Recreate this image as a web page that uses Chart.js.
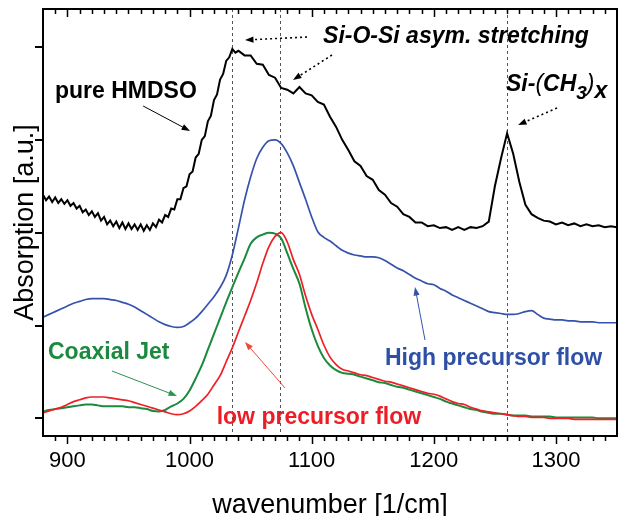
<!DOCTYPE html>
<html>
<head>
<meta charset="utf-8">
<script src="https://cdn.jsdelivr.net/npm/chart.js@4.4.0/dist/chart.umd.min.js"></script>
<style>
body { margin: 0; background: #fff; }
#wrap { width: 620px; height: 516px; }
</style>
</head>
<body>
<div id="wrap"><canvas id="spectra" width="620" height="516"></canvas></div>
<script>
// wavenumber grid shared by the three film spectra
var wavenumbers = [
  880, 885, 890, 895, 900, 905, 910, 915, 920, 925,
  930, 935, 940, 945, 950, 955, 960, 965, 970, 975,
  980, 985, 990, 995, 1000, 1005, 1010, 1015, 1020, 1025,
  1030, 1035, 1040, 1045, 1050, 1055, 1060, 1065, 1070, 1075,
  1080, 1085, 1090, 1095, 1100, 1105, 1110, 1115, 1120, 1125,
  1130, 1135, 1140, 1145, 1150, 1155, 1160, 1165, 1170, 1175,
  1180, 1185, 1190, 1195, 1200, 1205, 1210, 1215, 1220, 1225,
  1230, 1235, 1240, 1245, 1250, 1255, 1260, 1265, 1270, 1275,
  1280, 1285, 1290, 1295, 1300, 1305, 1310, 1315, 1320, 1325,
  1330, 1335, 1340, 1345, 1350
];

// the HMDSO spectrum is noisier, so it is sampled finer at the low end
var hmdsoWavenumbers = [
  880, 882.5, 885, 887.5, 890, 892.5, 895, 897.5, 900, 902.5,
  905, 907.5, 910, 912.5, 915, 917.5, 920, 922.5, 925, 927.5,
  930, 932.5, 935, 937.5, 940, 942.5, 945, 947.5, 950, 952.5,
  955, 957.5, 960, 962.5, 965, 967.5, 970, 972.5, 975, 977.5,
  980, 982.5, 985, 987.5, 990, 992.5, 995, 997.5, 1000, 1002.5,
  1005, 1007.5, 1010, 1012.5, 1015, 1017.5, 1020, 1022.5, 1025, 1027.5,
  1030, 1032.5, 1035, 1037.5, 1040,
  1045, 1050, 1055, 1060, 1065, 1070, 1075, 1080, 1085, 1090,
  1095, 1100, 1105, 1110, 1115, 1120, 1125, 1130, 1135, 1140,
  1145, 1150, 1155, 1160, 1165, 1170, 1175, 1180, 1185, 1190,
  1195, 1200, 1205, 1210, 1215, 1220, 1225, 1230, 1235, 1240,
  1245, 1250, 1255, 1260, 1265, 1270, 1275, 1280, 1285, 1290,
  1295, 1300, 1305, 1310, 1315, 1320, 1325, 1330, 1335, 1340,
  1345, 1350
];

var hmdso = [
  2.41, 2.35, 2.39, 2.33, 2.38, 2.32, 2.36, 2.31, 2.35, 2.29,
  2.32, 2.26, 2.29, 2.22, 2.25, 2.19, 2.23, 2.17, 2.21, 2.13,
  2.17, 2.09, 2.13, 2.07, 2.12, 2.05, 2.11, 2.04, 2.10, 2.04,
  2.09, 2.03, 2.09, 2.02, 2.08, 2.03, 2.10, 2.06, 2.14, 2.11,
  2.19, 2.17, 2.26, 2.25, 2.36, 2.36, 2.48, 2.50, 2.63, 2.66,
  2.81, 2.85, 3.00, 3.04, 3.20, 3.26, 3.43, 3.49, 3.65, 3.71,
  3.85, 3.89, 3.98, 3.94, 3.96,
  3.91, 3.91, 3.82, 3.81, 3.70, 3.67, 3.56, 3.54, 3.50, 3.57,
  3.50, 3.48, 3.41, 3.38, 3.25, 3.14, 3.00, 2.89, 2.77, 2.72,
  2.61, 2.57, 2.46, 2.41, 2.32, 2.28, 2.20, 2.17, 2.11, 2.11,
  2.07, 2.08, 2.05, 2.06, 2.03, 2.06, 2.03, 2.06, 2.05, 2.07,
  2.12, 2.50, 2.80, 3.07, 2.85, 2.55, 2.30, 2.20, 2.16, 2.13,
  2.12, 2.09, 2.11, 2.08, 2.10, 2.07, 2.09, 2.07, 2.08, 2.06,
  2.07, 2.06
];

var highFlow = [
  1.09, 1.12, 1.15, 1.18, 1.21, 1.24, 1.26, 1.28, 1.29, 1.29,
  1.29, 1.28, 1.27, 1.25, 1.23, 1.20, 1.16, 1.12, 1.08, 1.04,
  1.01, 0.99, 0.98, 0.99, 1.03, 1.08, 1.15, 1.23, 1.31, 1.41,
  1.54, 1.76, 2.05, 2.35, 2.60, 2.80, 2.92, 2.99, 3.00, 2.96,
  2.86, 2.72, 2.54, 2.36, 2.17, 2.01, 1.95, 1.91, 1.86, 1.81,
  1.78, 1.76, 1.75, 1.74, 1.74, 1.73, 1.70, 1.66, 1.62, 1.59,
  1.55, 1.51, 1.48, 1.45, 1.44, 1.40, 1.37, 1.33, 1.30, 1.27,
  1.24, 1.21, 1.18, 1.15, 1.14, 1.13, 1.12, 1.12, 1.13, 1.15,
  1.16, 1.12, 1.08, 1.07, 1.06, 1.06, 1.05, 1.05, 1.04, 1.04,
  1.04, 1.03, 1.03, 1.03, 1.03
];

var coaxialJet = [
  0.075, 0.09, 0.10, 0.11, 0.12, 0.13, 0.14, 0.15, 0.15, 0.14,
  0.13, 0.13, 0.13, 0.13, 0.12, 0.12, 0.11, 0.10, 0.08, 0.075,
  0.09, 0.13, 0.16, 0.21, 0.30, 0.43, 0.57, 0.74, 0.91, 1.08,
  1.25, 1.41, 1.57, 1.72, 1.88, 1.95, 1.98, 2.00, 1.99, 1.94,
  1.78, 1.61, 1.45, 1.19, 0.96, 0.78, 0.65, 0.57, 0.52, 0.49,
  0.48, 0.47, 0.45, 0.43, 0.41, 0.39, 0.38, 0.36, 0.34, 0.33,
  0.31, 0.29, 0.27, 0.25, 0.23, 0.21, 0.18, 0.16, 0.14, 0.12,
  0.10, 0.09, 0.07, 0.06, 0.05, 0.05, 0.04, 0.03, 0.03, 0.03,
  0.02, 0.02, 0.02, 0.02, 0.01, 0.01, 0.01, 0.01, 0.01, 0.01,
  0.01, 0.00, 0.00, 0.00, 0.00
];

var lowFlow = [
  0.06, 0.08, 0.10, 0.12, 0.15, 0.18, 0.20, 0.22, 0.23, 0.23,
  0.23, 0.22, 0.21, 0.20, 0.19, 0.17, 0.15, 0.13, 0.11, 0.09,
  0.07, 0.05, 0.04, 0.05, 0.08, 0.13, 0.19, 0.26, 0.36, 0.46,
  0.61, 0.76, 0.93, 1.10, 1.27, 1.46, 1.67, 1.85, 1.96, 2.00,
  1.90, 1.71, 1.55, 1.32, 1.12, 0.96, 0.79, 0.66, 0.58, 0.53,
  0.51, 0.49, 0.47, 0.46, 0.44, 0.42, 0.40, 0.39, 0.37, 0.35,
  0.33, 0.31, 0.29, 0.27, 0.26, 0.24, 0.21, 0.18, 0.16, 0.15,
  0.12, 0.10, 0.08, 0.07, 0.06, 0.05, 0.04, 0.03, 0.02, 0.02,
  0.01, 0.01, 0.01, 0.00, 0.00, 0.00, 0.00, -0.01, -0.01, -0.01,
  -0.01, -0.01, -0.01, -0.01, -0.01
];

var xTickLabels = [900, 1000, 1100, 1200, 1300];
var yTicks = [0, 1, 2, 3, 4];
var bandLines = [1035, 1074, 1260];

var FONT = "'Liberation Sans', Arial, sans-serif";

function toPoints(xs, ys) {
  return xs.map(function (x, i) { return { x: x, y: ys[i] }; });
}

function drawArrow(ctx, x1, y1, x2, y2, color, dotted) {
  var ang = Math.atan2(y2 - y1, x2 - x1);
  var head = 9;
  ctx.save();
  ctx.strokeStyle = color;
  ctx.fillStyle = color;
  ctx.lineWidth = dotted ? 1.6 : 1;
  ctx.setLineDash(dotted ? [2, 3] : []);
  ctx.beginPath();
  ctx.moveTo(x1, y1);
  ctx.lineTo(x2 - head * 0.8 * Math.cos(ang), y2 - head * 0.8 * Math.sin(ang));
  ctx.stroke();
  ctx.setLineDash([]);
  ctx.beginPath();
  ctx.moveTo(x2, y2);
  ctx.lineTo(x2 - head * Math.cos(ang - 0.35), y2 - head * Math.sin(ang - 0.35));
  ctx.lineTo(x2 - head * Math.cos(ang + 0.35), y2 - head * Math.sin(ang + 0.35));
  ctx.closePath();
  ctx.fill();
  ctx.restore();
}

var frameAndNotes = {
  id: 'frameAndNotes',
  beforeDatasetsDraw: function (chart) {
    var ctx = chart.ctx, area = chart.chartArea, xs = chart.scales.x;
    ctx.save();
    ctx.strokeStyle = '#555';
    ctx.lineWidth = 1;
    ctx.setLineDash([3, 3]);
    bandLines.forEach(function (wn) {
      var px = Math.round(xs.getPixelForValue(wn)) + 0.5;
      ctx.beginPath();
      ctx.moveTo(px, area.top);
      ctx.lineTo(px, area.bottom);
      ctx.stroke();
    });
    ctx.restore();
  },
  afterDraw: function (chart) {
    var ctx = chart.ctx, a = chart.chartArea;
    var xs = chart.scales.x, ys = chart.scales.y;
    function X(v) { return xs.getPixelForValue(v); }
    function Y(v) { return ys.getPixelForValue(v); }

    ctx.save();
    // frame
    ctx.strokeStyle = '#000';
    ctx.lineWidth = 2;
    ctx.strokeRect(a.left, a.top, a.right - a.left, a.bottom - a.top);

    // x ticks: outside at the bottom, inside at the top
    ctx.lineWidth = 1.5;
    for (var wn = 890; wn < 1350; wn += 10) {
      var px = Math.round(X(wn)) + 0.5;
      var len = (wn % 100 === 0) ? 8 : 5;
      ctx.beginPath();
      ctx.moveTo(px, a.bottom);
      ctx.lineTo(px, a.bottom + len);
      ctx.moveTo(px, a.top);
      ctx.lineTo(px, a.top + len);
      ctx.stroke();
    }
    // y ticks, outside on the left
    ctx.lineWidth = 2;
    yTicks.forEach(function (v) {
      var py = Math.round(Y(v));
      ctx.beginPath();
      ctx.moveTo(a.left - 8, py);
      ctx.lineTo(a.left, py);
      ctx.stroke();
    });

    // labels
    ctx.textBaseline = 'alphabetic';
    ctx.textAlign = 'left';
    ctx.font = 'bold 23px ' + FONT;
    ctx.fillStyle = '#000';
    ctx.fillText('pure HMDSO', X(889.8), Y(3.45));
    drawArrow(ctx, X(962), Y(3.365), X(1000.4), Y(3.096), '#000', false);

    ctx.font = 'italic bold 23px ' + FONT;
    ctx.fillText('Si-O-Si asym. stretching', X(1109.3), Y(4.044));
    drawArrow(ctx, X(1096.2), Y(4.108), X(1045.4), Y(4.076), '#000', true);
    drawArrow(ctx, X(1116.6), Y(3.914), X(1084.7), Y(3.645), '#000', true);

    // Si-(CH3)x with subscripts
    var cx = X(1259.1), cy = Y(3.527);
    var parts = [
      { t: 'Si-', f: 'italic bold 23px ', dy: 0 },
      { t: '(', f: 'italic 23px ', dy: 0 },
      { t: 'CH', f: 'italic bold 23px ', dy: 0 },
      { t: '3', f: 'italic bold 19px ', dy: 8 },
      { t: ')', f: 'italic 23px ', dy: 0 },
      { t: 'x', f: 'italic bold 23px ', dy: 7 }
    ];
    parts.forEach(function (p) {
      ctx.font = p.f + FONT;
      ctx.fillText(p.t, cx, cy + p.dy);
      cx += ctx.measureText(p.t).width;
    });
    drawArrow(ctx, X(1300.9), Y(3.343), X(1269), Y(3.16), '#000', true);

    ctx.font = 'bold 23px ' + FONT;
    ctx.fillStyle = '#2d4fa6';
    ctx.fillText('High precursor flow', X(1160), Y(0.575));
    drawArrow(ctx, X(1192.8), Y(0.844), X(1184.6), Y(1.415), '#3553ad', false);

    ctx.fillStyle = '#1b8a3e';
    ctx.fillText('Coaxial Jet', X(884.1), Y(0.64));
    drawArrow(ctx, X(936.5), Y(0.51), X(989.7), Y(0.241), '#2a9350', false);

    ctx.fillStyle = '#ee1c24';
    ctx.fillText('low precursor flow', X(1022.2), Y(-0.061));
    drawArrow(ctx, X(1078.2), Y(0.327), X(1045.4), Y(0.823), '#f04a3a', false);
    ctx.restore();
  }
};

new Chart(document.getElementById('spectra'), {
  type: 'line',
  data: {
    datasets: [
      { label: 'low precursor flow', data: toPoints(wavenumbers, lowFlow), borderColor: '#ee2026', borderWidth: 1.7, cubicInterpolationMode: 'monotone' },
      { label: 'Coaxial Jet', data: toPoints(wavenumbers, coaxialJet), borderColor: '#1b8a3e', borderWidth: 2, cubicInterpolationMode: 'monotone' },
      { label: 'High precursor flow', data: toPoints(wavenumbers, highFlow), borderColor: '#3553ad', borderWidth: 1.7, cubicInterpolationMode: 'monotone' },
      { label: 'pure HMDSO', data: toPoints(hmdsoWavenumbers, hmdso), borderColor: '#000', borderWidth: 2 }
    ]
  },
  options: {
    responsive: false,
    animation: false,
    layout: { padding: { top: 9, right: 3, left: 0, bottom: 0 } },
    elements: { point: { radius: 0 }, line: { tension: 0, fill: false } },
    plugins: { legend: { display: false }, tooltip: { enabled: false } },
    scales: {
      x: {
        type: 'linear',
        min: 880,
        max: 1350,
        afterFit: function (s) { s.height = 80; },
        afterBuildTicks: function (s) {
          s.ticks = xTickLabels.map(function (v) { return { value: v }; });
        },
        grid: { display: false, drawTicks: false },
        border: { display: false },
        ticks: {
          color: '#000',
          padding: 12,
          maxRotation: 0,
          autoSkip: false,
          font: { family: FONT, size: 22 },
          callback: function (v) { return String(v); }
        },
        title: {
          display: true,
          text: 'wavenumber [1/cm]',
          color: '#000',
          padding: { top: 0, bottom: 0 },
          font: { family: FONT, size: 27, lineHeight: 0.8 }
        }
      },
      y: {
        type: 'linear',
        min: -0.19,
        max: 4.41,
        afterFit: function (s) { s.width = 43; },
        grid: { display: false, drawTicks: false },
        border: { display: false },
        ticks: { display: false },
        title: {
          display: true,
          text: 'Absorption [a.u.]',
          color: '#000',
          padding: { top: 12, bottom: 0 },
          font: { family: FONT, size: 27, lineHeight: 1 }
        }
      }
    }
  },
  plugins: [frameAndNotes]
});
</script>
</body>
</html>
